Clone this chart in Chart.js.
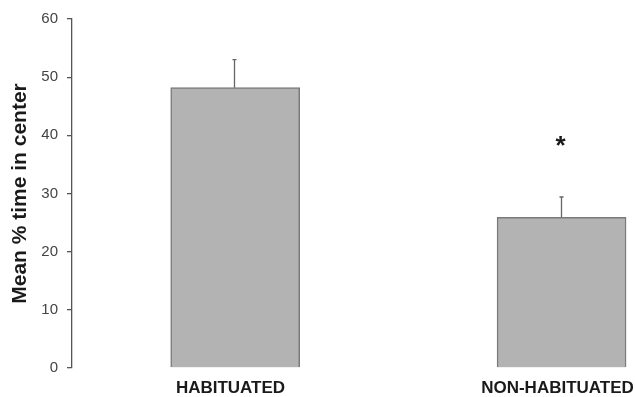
<!DOCTYPE html>
<html>
<head>
<meta charset="utf-8">
<script src="https://cdn.jsdelivr.net/npm/chart.js@4"></script>
<style>
  html, body { margin: 0; padding: 0; background: #ffffff; overflow: hidden; }
  #wrap { width: 635px; height: 397px; position: relative; }
</style>
</head>
<body>
<div id="wrap"><canvas id="chart"></canvas></div>
<script>
// Mean % of time spent in the centre, with standard error
const groups = ['HABITUATED', 'NON-HABITUATED'];
const meanTime = [48.2, 25.9];
const stdError = [4.8, 3.5];
const significance = ['', '*'];
const yTicks = [0, 10, 20, 30, 40, 50, 60];

const points = groups.map((g, i) => ({ x: i + 1, y: meanTime[i] }));

// Upward error whiskers, group labels and significance marks
const extras = {
  id: 'extras',
  afterDatasetsDraw(chart) {
    const { ctx } = chart;
    const xs = chart.scales.x, ys = chart.scales.y;
    ctx.save();
    groups.forEach((g, i) => {
      const cx = Math.round(xs.getPixelForValue(i + 1)) - 0.5;
      const y0 = ys.getPixelForValue(meanTime[i]);
      const y1 = ys.getPixelForValue(meanTime[i] + stdError[i]);
      ctx.strokeStyle = '#666666';
      ctx.lineWidth = 1.3;
      ctx.beginPath();
      ctx.moveTo(cx, y0);
      ctx.lineTo(cx, y1);
      ctx.moveTo(cx - 2, y1);
      ctx.lineTo(cx + 2, y1);
      ctx.stroke();

      // category label under the bar
      ctx.fillStyle = '#1a1a1a';
      ctx.font = 'bold 17px "Liberation Sans", Arial, sans-serif';
      ctx.textAlign = 'center';
      ctx.textBaseline = 'middle';
      ctx.fillText(g, cx - 4, 388);

      if (significance[i]) {
        ctx.font = 'bold 26px "Liberation Sans", Arial, sans-serif';
        ctx.textBaseline = 'middle';
        ctx.fillText(significance[i], cx - 1, y1 - 50);
      }
    });
    ctx.restore();
  }
};

new Chart(document.getElementById('chart'), {
  type: 'bar',
  data: {
    datasets: [{
      data: points,
      backgroundColor: '#b3b3b3',
      borderColor: '#7a7a7a',
      borderWidth: 1.5,
      barThickness: 129
    }]
  },
  options: {
    responsive: true,
    maintainAspectRatio: false,
    animation: false,
    layout: { padding: { top: 19, right: 0, bottom: 29, left: 0 } },
    plugins: { legend: { display: false }, tooltip: { enabled: false } },
    scales: {
      x: {
        type: 'linear',
        display: false,
        min: 0.5,
        max: 2.225,
        offset: false
      },
      y: {
        min: 0,
        max: 60,
        afterFit(scale) { scale.width = 72; },
        afterBuildTicks(scale) { scale.ticks = yTicks.map(v => ({ value: v })); },
        border: { display: true, color: '#555555', width: 1.3 },
        grid: {
          display: true,
          drawOnChartArea: false,
          drawTicks: true,
          tickLength: 5,
          color: '#555555',
          lineWidth: 1.3
        },
        ticks: {
          padding: 9,
          color: '#444444',
          font: { family: '"Liberation Sans", Arial, sans-serif', size: 15 }
        },
        title: {
          display: true,
          text: 'Mean % time in center',
          color: '#1a1a1a',
          padding: { top: 8, bottom: 0 },
          font: { family: '"Liberation Sans", Arial, sans-serif', size: 21, weight: 'bold' }
        }
      }
    }
  },
  plugins: [extras]
});
</script>
</body>
</html>
